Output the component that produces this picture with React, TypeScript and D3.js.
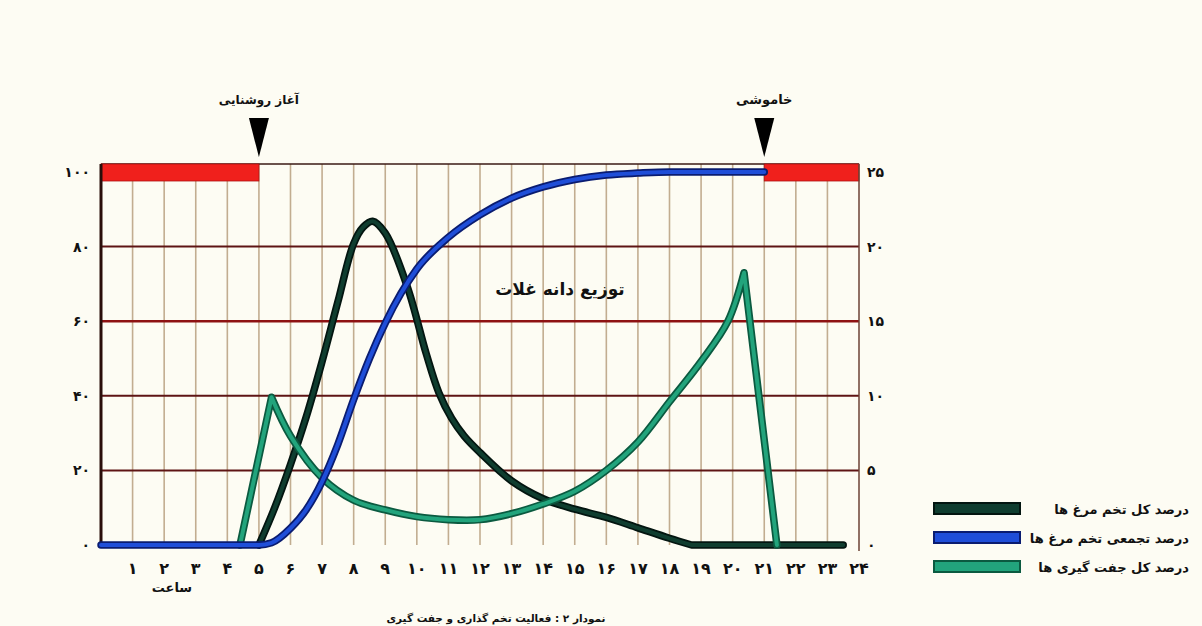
import React from 'react';
import * as d3 from 'd3';

// hours on the x axis
const hours = d3.range(1, 25);
const leftTicks = [0, 20, 40, 60, 80, 100];
const rightTicks = [0, 5, 10, 15, 20, 25];

// total eggs % (right axis)
const eggHours = [5, 5.5, 6, 6.5, 7, 7.5, 8, 8.3, 8.6, 9, 9.7, 10.3, 10.7, 11.1, 11.5, 12, 13, 14, 15, 16, 17, 18, 18.7, 23.5];
const eggValues = [0, 2.5, 5.4, 8.6, 12.3, 16.3, 20.2, 21.3, 21.7, 20.9, 17.3, 12.8, 10.2, 8.5, 7.3, 6.2, 4.3, 3.1, 2.4, 1.85, 1.15, 0.45, 0, 0];

// cumulative eggs % (left axis)
const cumHours = [0, 5, 5.4, 6, 6.5, 7, 7.5, 8, 8.5, 9, 9.5, 10, 11, 12, 13, 14, 15, 16, 17, 18, 21];
const cumValues = [0, 0, 0.6, 4.5, 9.5, 17, 27, 39, 50, 59.5, 67.5, 74, 82.5, 88.5, 93, 96, 98, 99.2, 99.7, 100, 100];

// total matings % (right axis)
const mateHours = [4.4, 5.4, 6, 7, 8, 9, 10, 11, 12, 13, 14, 15, 16, 17, 18, 19, 19.85, 20.36, 21.4];
const mateValues = [0, 9.9, 7.3, 4.5, 3, 2.35, 1.9, 1.7, 1.7, 2.1, 2.75, 3.6, 5, 6.9, 9.6, 12.3, 15, 18.25, 0];
const mateCorners = [5.4, 20.36];

// lighting
const lightsOn = 5;
const lightsOff = 21;

const legendLabels = ['درصد کل تخم مرغ ها', 'درصد تجمعی تخم مرغ ها', 'درصد کل جفت گیری ها'];

const toFa = (n: number) => String(n).replace(/\d/g, d => '۰۱۲۳۴۵۶۷۸۹'[+d]);

const W = 1202;
const H = 626;
const FONT = '"DejaVu Sans", sans-serif';

const x = d3.scaleLinear().domain([0, 24]).range([101, 859]);
const yL = d3.scaleLinear().domain([0, 100]).range([545, 172]);
const yR = d3.scaleLinear().domain([0, 25]).range([545, 172]);

type P = [number, number];

const zip = (a: number[], b: number[]): P[] => a.map((h, i) => [h, b[i]]);

function linePath(pts: P[], y: d3.ScaleLinear<number, number>, curve: d3.CurveFactory) {
  return d3.line<P>().x(d => x(d[0])).y(d => Math.min(y(0), y(d[1]))).curve(curve)(pts) || '';
}

// split at sharp corners; two-point pieces stay straight
function cornerPath(pts: P[], corners: number[], y: d3.ScaleLinear<number, number>) {
  const pieces: P[][] = [[]];
  pts.forEach(p => {
    pieces[pieces.length - 1].push(p);
    if (corners.includes(p[0])) pieces.push([p]);
  });
  return pieces
    .filter(s => s.length > 1)
    .map((s, i) => {
      const d = linePath(s, y, s.length > 2 ? d3.curveCatmullRom.alpha(0.5) : d3.curveLinear);
      return i === 0 ? d : 'L' + d.slice(1);
    })
    .join('');
}

const Curve: React.FC<{ d: string; edge: string; fill: string }> = ({ d, edge, fill }) => (
  <g fill="none" strokeLinecap="round" strokeLinejoin="round">
    <path d={d} stroke={edge} strokeWidth={7.5} />
    <path d={d} stroke={fill} strokeWidth={4} />
  </g>
);

export default function App() {
  const eggPts = zip(eggHours, eggValues);
  const flatFrom = eggPts.findIndex((p, i) => i > 0 && p[1] === 0);
  const eggD =
    linePath(eggPts.slice(0, flatFrom + 1), yR, d3.curveCatmullRom.alpha(0.5)) +
    'L' + linePath(eggPts.slice(flatFrom), yR, d3.curveLinear).slice(1);
  const cumD = linePath(zip(cumHours, cumValues), yL, d3.curveMonotoneX);
  const mateD = cornerPath(zip(mateHours, mateValues), mateCorners, yR);

  const top = 164;
  const legendColors = [
    { edge: '#031510', fill: '#0f3d2f' },
    { edge: '#0a1c70', fill: '#1f4ed8' },
    { edge: '#0b5a40', fill: '#22a47c' },
  ];

  return (
    <svg width={W} height={H} style={{ position: 'absolute', left: 0, top: 0 }} fontFamily={FONT}>
      <rect width={W} height={H} fill="#fdfcf3" />

      {/* vertical hour grid */}
      <g stroke="#c2ad90" strokeWidth={1.6}>
        {hours.slice(0, -1).map(h => (
          <line key={h} x1={x(h)} x2={x(h)} y1={top} y2={yL(0)} />
        ))}
      </g>

      {/* horizontal grid */}
      <g>
        {leftTicks.filter(t => t > 0 && t < 100).map(t => (
          <line key={t} x1={x(0)} x2={x(24)} y1={yL(t)} y2={yL(t)}
            stroke={t === 60 ? '#8e1212' : '#5e1414'} strokeWidth={t === 60 ? 2.6 : 2} />
        ))}
      </g>

      {/* top frame */}
      <line x1={x(0)} x2={x(24)} y1={top} y2={top} stroke="#3a1a14" strokeWidth={1.5} />

      {/* dark periods */}
      <rect x={x(0)} y={top} width={x(lightsOn) - x(0)} height={17} fill="#f0201c" stroke="#b01010" strokeWidth={0.8} />
      <rect x={x(lightsOff)} y={top} width={x(24) - x(lightsOff)} height={17} fill="#f0201c" stroke="#b01010" strokeWidth={0.8} />

      {/* axes */}
      <line x1={x(0)} x2={x(0)} y1={top} y2={yL(0) + 3} stroke="#2a0e0a" strokeWidth={3} />
      <line x1={x(24)} x2={x(24)} y1={top} y2={yL(0) + 6} stroke="#6b4234" strokeWidth={1.5} />

      <Curve d={eggD} edge="#031510" fill="#0f3d2f" />
      <Curve d={mateD} edge="#0b5a40" fill="#22a47c" />
      <Curve d={cumD} edge="#0a1c70" fill="#1f4ed8" />

      {/* left ticks */}
      <g fontSize={14} fontWeight="bold" textAnchor="end" fill="#111">
        {leftTicks.map(t => (
          <text key={t} x={90} y={yL(t)} dy="0.35em">{toFa(t)}</text>
        ))}
      </g>
      {/* right ticks */}
      <g fontSize={14} fontWeight="bold" textAnchor="start" fill="#111">
        {rightTicks.map(t => (
          <text key={t} x={867} y={yR(t)} dy="0.35em">{toFa(t)}</text>
        ))}
      </g>
      {/* hour labels */}
      <g fontSize={16} fontWeight="bold" textAnchor="middle" fill="#111">
        {hours.map(h => (
          <text key={h} x={x(h)} y={574}>{toFa(h)}</text>
        ))}
      </g>
      <text x={172} y={592} fontSize={13} fontWeight="bold" textAnchor="middle" fill="#111">ساعت</text>

      {/* lighting markers */}
      {[lightsOn, lightsOff].map(h => (
        <path key={h} d={`M${x(h) - 10},118 L${x(h) + 10},118 L${x(h)},157 Z`} fill="#000" />
      ))}
      <text x={x(lightsOn)} y={104} fontSize={12} fontWeight="bold" textAnchor="middle" fill="#111">آغاز روشنایی</text>
      <text x={x(lightsOff)} y={104} fontSize={13} fontWeight="bold" textAnchor="middle" fill="#111">خاموشی</text>

      <text x={560} y={295} fontSize={17} fontWeight="bold" textAnchor="middle" fill="#111">توزیع دانه غلات</text>

      {/* legend */}
      {legendLabels.map((label, i) => (
        <g key={label}>
          <rect x={934} y={503 + i * 29} width={86} height={11}
            fill={legendColors[i].fill} stroke={legendColors[i].edge} strokeWidth={2} />
          <text x={1189} y={509 + i * 29} dy="0.35em" fontSize={13} fontWeight="bold" textAnchor="end" fill="#111">{label}</text>
        </g>
      ))}

      <text x={496} y={622} fontSize={10.5} fontWeight="bold" textAnchor="middle" fill="#111">
        {`نمودار ${toFa(2)} : فعالیت تخم گذاری و جفت گیری`}
      </text>
    </svg>
  );
}
